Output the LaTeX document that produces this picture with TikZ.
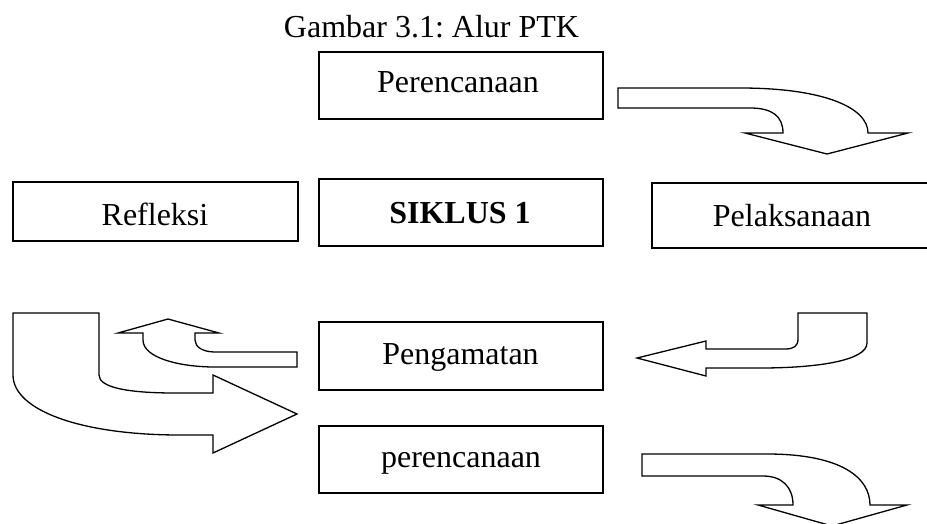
\documentclass[tikz,border=0pt]{standalone}
\usepackage{fontspec}
\setmainfont{Liberation Serif}
\frenchspacing
\begin{document}
\begin{tikzpicture}[x=1pt,y=-1pt,
  box/.style={draw=black,line width=1.4pt,fill=white,inner sep=0pt,minimum width=#1},
  box/.default=284,
  lbl/.style={anchor=base,inner sep=0pt,font=\fontsize{32}{38}\selectfont},
  blockarrow/.style={draw=black,line width=1.3pt,fill=white,line join=miter}]
\useasboundingbox (0,0) rectangle (927,523);
\clip (0,0) rectangle (927,523);
% caption
\node[lbl] (cap) at (431.5,37) {Gambar 3.1: Alur PTK};
% boxes
\node[box,minimum height=67] (bper) at (461,85.5) {};
\node[box=285,minimum height=59] (bref) at (155.5,211.5) {};
\node[box,minimum height=67] (bsik) at (461,212.5) {};
\node[box=280,minimum height=65] (bpel) at (792,215.5) {};
\node[box,minimum height=68] (bpen) at (461,356) {};
\node[box,minimum height=67] (bpr2) at (461,459.5) {};
% labels
\node[lbl] (tper) at (458,92) {Perencanaan};
\node[lbl] (tref) at (155,225) {Refleksi};
\node[lbl,font=\fontsize{32}{38}\selectfont\bfseries] (tsik) at (460,223) {SIKLUS 1};
\node[lbl] (tpel) at (792,226) {Pelaksanaan};
\node[lbl] (tpen) at (460.5,364) {Pengamatan};
\node[lbl] (tpr2) at (461,467) {perencanaan};
% arrow top right
\draw[blockarrow] (618,88) -- (740,88) .. controls (825,88) and (868,108) .. (868,133)
  -- (908,133) -- (827,154) -- (745,133) -- (783,133)
  .. controls (783,116) and (772,108) .. (750,108) -- (618,108) -- cycle;
% arrow bottom right
\draw[blockarrow] (642,454) -- (767,454) .. controls (842,454) and (870,478) .. (870,505)
  -- (907,505) -- (832,526) -- (758,505) -- (793,505)
  .. controls (793,487) and (782,476) .. (763,476) -- (642,476) -- cycle;
% arrow left (right of Pengamatan)
\draw[blockarrow] (637,358) -- (706,341) -- (706,349) -- (785,349)
  .. controls (794,349) and (798,346) .. (798,339) -- (798,313) -- (867,313) -- (867,343)
  .. controls (867,360) and (820,368) .. (760,368) -- (706,368) -- (706,376) -- cycle;
% small up arrow
\draw[blockarrow] (297,352) -- (215,352) .. controls (203,352) and (195,347) .. (195,340)
  -- (195,333) -- (219,333) -- (168,319) -- (118,333) -- (143,333) -- (143,340)
  .. controls (143,358) and (180,367) .. (215,367) -- (297,367) -- cycle;
% big right arrow
\draw[blockarrow] (13,313) -- (99,313) -- (99,375) .. controls (99,388) and (130,393) .. (175,393)
  -- (213,393) -- (213,375) -- (297,414) -- (213,453) -- (213,435) -- (180,435)
  .. controls (80,435) and (13,410) .. (13,375) -- cycle;
\end{tikzpicture}
\end{document}
